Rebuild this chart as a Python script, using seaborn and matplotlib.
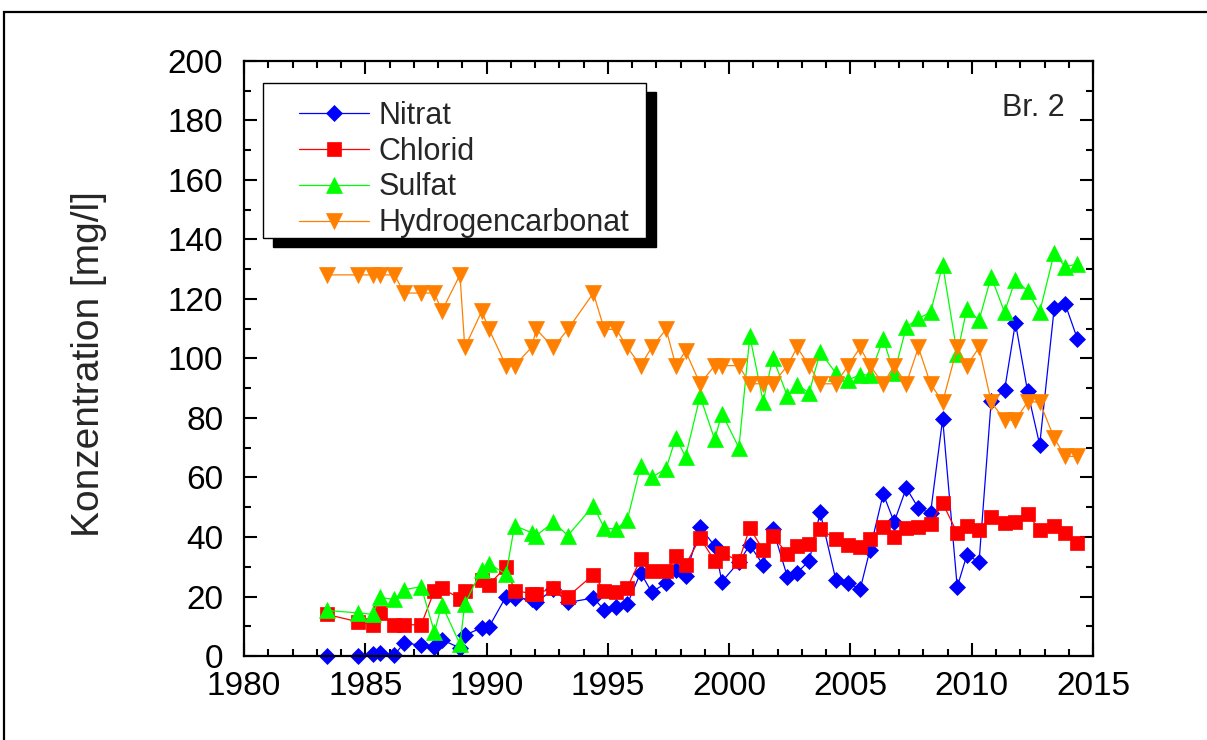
import matplotlib
matplotlib.use("Agg")
import matplotlib.pyplot as plt
from matplotlib.patches import Rectangle
from matplotlib.ticker import MultipleLocator
import seaborn as sns

# Probenahmetermine (Dezimaljahr) und Messwerte Brunnen 2 in mg/l
jahr = [1983.4, 1984.7, 1985.3, 1985.6, 1986.2, 1986.6, 1987.3, 1987.85, 1988.15, 1988.9,
        1989.1, 1989.8, 1990.1, 1990.8, 1991.15, 1991.85, 1992.05, 1992.75, 1993.35, 1994.4,
        1994.85, 1995.35, 1995.8, 1996.35, 1996.8, 1997.4, 1997.8, 1998.2, 1998.8, 1999.4,
        1999.7, 2000.4, 2000.85, 2001.4, 2001.8, 2002.4, 2002.8, 2003.3, 2003.75, 2004.4,
        2004.9, 2005.4, 2005.8, 2006.35, 2006.8, 2007.3, 2007.8, 2008.3, 2008.8, 2009.4,
        2009.8, 2010.3, 2010.8, 2011.35, 2011.8, 2012.3, 2012.8, 2013.4, 2013.85, 2014.35]

nitrat = [0.0, 0.0, 0.8, 1.0, 0.5, 4.3, 3.7, 3.0, 5.5, 2.7,
          7.0, 9.5, 9.8, 20.0, 19.5, 19.0, 18.0, 22.5, 18.0, 19.5,
          15.5, 16.5, 17.5, 28.0, 21.5, 24.5, 29.0, 27.0, 43.3, 37.0,
          25.0, 31.6, 37.3, 30.6, 42.7, 26.6, 28.0, 32.0, 48.3, 25.5,
          24.5, 22.5, 35.6, 54.5, 45.0, 56.5, 49.7, 48.0, 79.7, 23.2,
          34.0, 31.6, 85.7, 89.3, 112.0, 89.0, 71.0, 117.0, 118.3, 106.7]

chlorid = [14.0, 11.5, 10.5, 14.3, 10.5, 10.5, 10.5, 22.0, 22.8, 19.3,
           22.0, 25.5, 24.0, 30.0, 22.0, 21.0, 21.0, 22.8, 20.0, 27.3,
           22.0, 21.5, 23.0, 32.6, 28.6, 28.6, 33.6, 30.6, 39.7, 32.0,
           34.6, 32.0, 43.0, 35.6, 40.3, 34.3, 37.0, 37.6, 42.7, 39.3,
           37.3, 36.6, 39.3, 43.4, 40.0, 43.0, 43.4, 44.4, 51.4, 41.3,
           43.7, 42.4, 46.7, 44.7, 45.0, 47.7, 42.4, 43.7, 41.3, 38.0]

sulfat = [15.3, 14.5, 14.0, 19.7, 19.0, 22.3, 23.3, 8.0, 17.3, 4.0,
          17.5, 29.0, 31.0, 27.5, 43.8, 41.5, 40.5, 45.0, 40.5, 50.5,
          43.0, 42.7, 45.8, 64.0, 60.0, 63.0, 73.4, 67.0, 87.3, 72.8,
          81.5, 70.0, 107.5, 85.5, 100.3, 87.3, 91.0, 88.5, 102.3, 95.0,
          92.8, 94.5, 94.5, 106.5, 95.0, 110.5, 113.5, 115.5, 131.5, 101.5,
          116.8, 112.8, 127.5, 115.6, 126.5, 122.7, 115.6, 135.5, 130.8, 131.8]

hydrogencarbonat = [128.1, 128.1, 128.1, 128.1, 128.1, 122.0, 122.0, 122.0, 115.9, 128.1,
                    103.7, 115.9, 109.8, 97.6, 97.6, 103.7, 109.8, 103.7, 109.8, 122.0,
                    109.8, 109.8, 103.7, 97.6, 103.7, 109.8, 97.6, 102.5, 91.5, 97.6,
                    97.6, 97.6, 91.5, 91.5, 91.5, 97.6, 103.7, 97.6, 91.5, 91.5,
                    97.6, 103.7, 97.6, 91.5, 97.6, 91.5, 103.7, 91.5, 85.4, 103.7,
                    97.6, 103.7, 85.4, 79.3, 79.3, 85.4, 85.4, 73.2, 67.1, 67.1]

parameter = ["Nitrat", "Chlorid", "Sulfat", "Hydrogencarbonat"]
x_ticks = [1980, 1985, 1990, 1995, 2000, 2005, 2010, 2015]
y_ticks = [0, 20, 40, 60, 80, 100, 120, 140, 160, 180, 200]

sns.set_style("ticks")
plt.rcParams["font.family"] = ["Liberation Sans", "DejaVu Sans"]

fig = plt.figure(figsize=(12.07, 7.40), dpi=100)
fig.patch.set_facecolor("white")
ax = fig.add_axes([0.2022, 0.1135, 0.7034, 0.8041])

reihen = [
    (parameter[0], nitrat, "#0000FF", "D", 8.5),
    (parameter[1], chlorid, "#FF0000", "s", 9.5),
    (parameter[2], sulfat, "#00FF00", "^", 12),
    (parameter[3], hydrogencarbonat, "#FF8000", "v", 12),
]
for name, werte, farbe, marker, ms in reihen:
    sns.lineplot(x=jahr, y=werte, ax=ax, color=farbe, marker=marker,
                 markersize=ms, markeredgecolor=farbe, markeredgewidth=0.5,
                 linewidth=0.9, label=name, estimator=None, sort=False,
                 clip_on=False)

ax.set_xlim(x_ticks[0], x_ticks[-1])
ax.set_ylim(y_ticks[0], y_ticks[-1])
ax.set_xticks(x_ticks)
ax.set_yticks(y_ticks)
ax.xaxis.set_minor_locator(MultipleLocator(1))
ax.yaxis.set_minor_locator(MultipleLocator(10))
ax.tick_params(which="both", direction="in", top=True, right=True,
               width=1.5, colors="black", labelsize=24)
ax.tick_params(which="major", length=9.5)
ax.tick_params(which="minor", length=5)
ax.tick_params(axis="x", pad=11)
ax.tick_params(axis="y", pad=15)
for s in ax.spines.values():
    s.set_linewidth(1.6)
    s.set_color("black")
    s.set_zorder(10)

ax.set_xlabel("")
ax.set_ylabel("Konzentration [mg/l]", fontsize=28)
ax.yaxis.set_label_coords(-0.162, 0.49)

ax.text(0.966, 0.921, "Br. 2", transform=ax.transAxes, ha="right",
        va="center", fontsize=22)

# Legende mit Rahmen und hartem Schlagschatten
leg = ax.legend(frameon=False, loc="upper left", bbox_to_anchor=(0.0649, 0.933),
                borderpad=0, borderaxespad=0, fontsize=22, handlelength=2.3,
                handletextpad=0.3, labelspacing=0.19)
leg.set_zorder(8)
box = (0.0224, 0.7025, 0.4505, 0.2605)
ax.add_patch(Rectangle((box[0] + 0.0118, box[1] - 0.0151), box[2], box[3],
                       transform=ax.transAxes, facecolor="black",
                       edgecolor="black", zorder=6, clip_on=False))
ax.add_patch(Rectangle((box[0], box[1]), box[2], box[3],
                       transform=ax.transAxes, facecolor="white",
                       edgecolor="black", linewidth=1.0, zorder=7, clip_on=False))

# Aeusserer Bildrahmen
fig.add_artist(Rectangle((0.0033, -0.1), 1.2, 0.9838 + 0.1,
                         transform=fig.transFigure, fill=False,
                         edgecolor="black", linewidth=1.6))

fig.savefig("out.png", dpi=100)
